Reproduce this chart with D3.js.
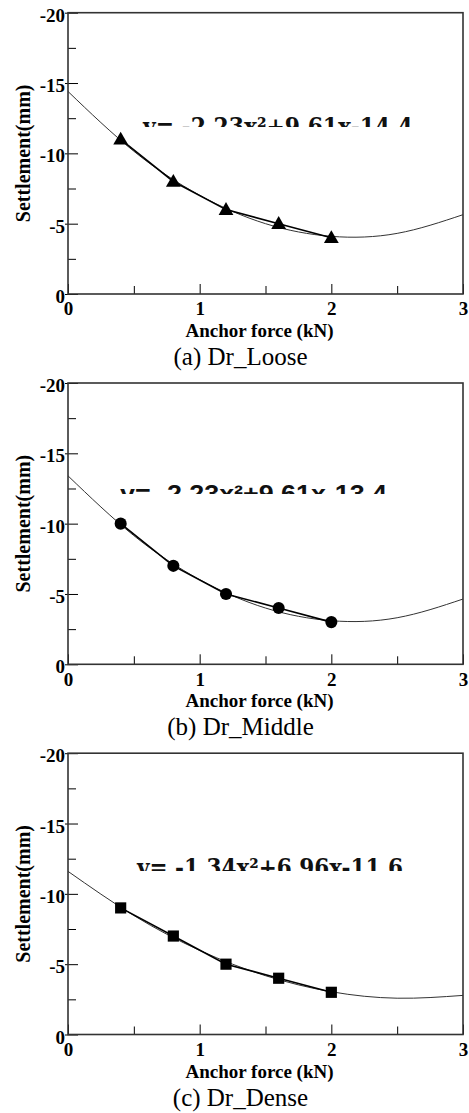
<!DOCTYPE html>
<html>
<head>
<meta charset="utf-8">
<script src="https://cdn.jsdelivr.net/npm/d3@7"></script>
<style>
  body { margin: 0; background: #fff; }
  svg { display: block; }
</style>
</head>
<body>
<div id="chart"></div>
<script>
// measured points (anchor force vs settlement)
const forceKN = [0.4, 0.8, 1.2, 1.6, 2.0];
const settleLoose = [-11, -8, -6, -5, -4];
const settleMiddle = [-10, -7, -5, -4, -3];
const settleDense = [-9, -7, -5, -4, -3];

// fitted curves, every 0.5 kN
const fitX = [0, 0.5, 1, 1.5, 2, 2.5, 3];
const fitLoose = [-14.4, -10.15, -7.02, -5.0, -4.1, -4.31, -5.64];
const fitMiddle = [-13.4, -9.15, -6.02, -4.0, -3.1, -3.31, -4.64];
const fitDense = [-11.6, -8.46, -5.98, -4.18, -3.04, -2.58, -2.78];

const xTicks = [0, 1, 2, 3];
const xMinorTicks = [0.5, 1.5, 2.5];
const yTicks = [0, -5, -10, -15, -20];
const yMinorTicks = [-2.5, -7.5, -12.5, -17.5];

const captions = ['(a) Dr_Loose', '(b) Dr_Middle', '(c) Dr_Dense'];
const equations = [
    'y= -2.23x²+9.61x-14.4',
    'y= -2.23x²+9.61x-13.4',
    'y= -1.34x²+6.96x-11.6',
];
const markerShapes = ['triangle', 'circle', 'square'];

const W = 469, H = 1113;
const serif = "'Liberation Serif', 'Times New Roman', serif";

const svg = d3.select('#chart')
    .append('svg')
    .attr('width', W)
    .attr('height', H);

const panels = [
    { off: 0, pts: settleLoose, fit: fitLoose, eq: { x: 143, y: 135, cut: 127, len: 270, font: "'DejaVu Serif', serif" } },
    { off: 370.3, pts: settleMiddle, fit: fitMiddle, eq: { x: 120, y: 502, cut: 494, len: 267, font: "'Liberation Sans', Arial, sans-serif" } },
    { off: 740.5, pts: settleDense, fit: fitDense, eq: { x: 137, y: 876, cut: 871, len: 266, font: "'DejaVu Serif', serif" } },
];

function renderPanel(p, i) {
    const left = 68, right = 463;
    const top = 12.7 + p.off, bottom = 294 + p.off;

    const x = d3.scaleLinear().domain([0, 3]).range([left, right]);
    const y = d3.scaleLinear().domain([0, -20]).range([bottom, top]);

    const g = svg.append('g');

    // equation text, clipped like in the source figure
    const clipId = 'eqclip' + i;
    svg.append('clipPath').attr('id', clipId)
        .append('rect')
        .attr('x', 0).attr('y', p.eq.y - 30)
        .attr('width', W).attr('height', p.eq.cut - (p.eq.y - 30));

    g.append('text')
        .attr('clip-path', `url(#${clipId})`)
        .attr('x', p.eq.x)
        .attr('y', p.eq.y)
        .attr('font-family', p.eq.font)
        .attr('font-weight', 'bold')
        .attr('font-size', 24)
        .attr('fill', '#111')
        .attr('textLength', p.eq.len)
        .attr('lengthAdjust', 'spacingAndGlyphs')
        .text(equations[i]);

    // fitted curve
    const fitData = fitX.map((v, k) => [v, p.fit[k]]);
    g.append('path')
        .datum(fitData)
        .attr('fill', 'none')
        .attr('stroke', '#333')
        .attr('stroke-width', 1)
        .attr('d', d3.line()
            .x(d => x(d[0]))
            .y(d => y(d[1]))
            .curve(d3.curveNatural));

    // measured line
    const ptData = forceKN.map((v, k) => [v, p.pts[k]]);
    g.append('path')
        .datum(ptData)
        .attr('fill', 'none')
        .attr('stroke', '#000')
        .attr('stroke-width', 1.6)
        .attr('d', d3.line().x(d => x(d[0])).y(d => y(d[1])));

    // markers
    const symType = { triangle: d3.symbolTriangle, circle: d3.symbolCircle, square: d3.symbolSquare }[markerShapes[i]];
    const symSize = { triangle: 95, circle: 115, square: 125 }[markerShapes[i]];
    g.selectAll('.marker')
        .data(ptData)
        .enter()
        .append('path')
        .attr('class', 'marker')
        .attr('transform', d => `translate(${x(d[0])},${y(d[1]) + (markerShapes[i] === 'triangle' ? 1 : 0)})`)
        .attr('d', d3.symbol().type(symType).size(symSize))
        .attr('fill', '#000');

    // minor ticks
    g.append('g')
        .attr('transform', `translate(0,${bottom})`)
        .call(d3.axisBottom(x).tickValues(xMinorTicks).tickSize(-8).tickFormat(''))
        .call(a => a.select('.domain').remove());
    g.append('g')
        .attr('transform', `translate(${left},0)`)
        .call(d3.axisLeft(y).tickValues(yMinorTicks).tickSize(-8).tickFormat(''))
        .call(a => a.select('.domain').remove());

    // major ticks + labels (plain hyphen minus as in the figure)
    const xAxis = g.append('g')
        .attr('transform', `translate(0,${bottom})`)
        .call(d3.axisBottom(x).tickValues(xTicks).tickSizeInner(-10).tickSizeOuter(0).tickPadding(7).tickFormat(d => String(d)));
    xAxis.select('.domain').remove();
    xAxis.selectAll('.tick line').attr('stroke', '#000');
    xAxis.selectAll('text')
        .attr('font-family', serif)
        .attr('font-weight', 'bold')
        .attr('font-size', 19)
        .attr('fill', '#000')
        .attr('dy', '0.75em');

    const yAxis = g.append('g')
        .attr('transform', `translate(${left},0)`)
        .call(d3.axisLeft(y).tickValues(yTicks).tickSizeInner(-10).tickSizeOuter(0).tickPadding(3).tickFormat(d => String(d)));
    yAxis.select('.domain').remove();
    yAxis.selectAll('.tick line').attr('x1', -3);
    yAxis.selectAll('text')
        .attr('font-family', serif)
        .attr('font-weight', 'bold')
        .attr('font-size', 19)
        .attr('fill', '#000')
        .attr('dy', '0.45em');

    // frame
    g.append('rect')
        .attr('x', left).attr('y', top)
        .attr('width', right - left).attr('height', bottom - top)
        .attr('fill', 'none')
        .attr('stroke', '#333')
        .attr('stroke-width', 1.6);

    // axis titles
    g.append('text')
        .attr('transform', `translate(30,${(top + bottom) / 2}) rotate(-90)`)
        .attr('text-anchor', 'middle')
        .attr('font-family', serif)
        .attr('font-weight', 'bold')
        .attr('font-size', 20)
        .text('Settlement(mm)');

    g.append('text')
        .attr('x', (left + right) / 2 - 6)
        .attr('y', 337 + p.off)
        .attr('text-anchor', 'middle')
        .attr('font-family', serif)
        .attr('font-weight', 'bold')
        .attr('font-size', 19)
        .text('Anchor force (kN)');

    // caption
    g.append('text')
        .attr('x', (left + right) / 2 - 25)
        .attr('y', 365 + p.off)
        .attr('text-anchor', 'middle')
        .attr('font-family', serif)
        .attr('font-size', 25)
        .text(captions[i]);
}

panels.forEach(renderPanel);
</script>
</body>
</html>
